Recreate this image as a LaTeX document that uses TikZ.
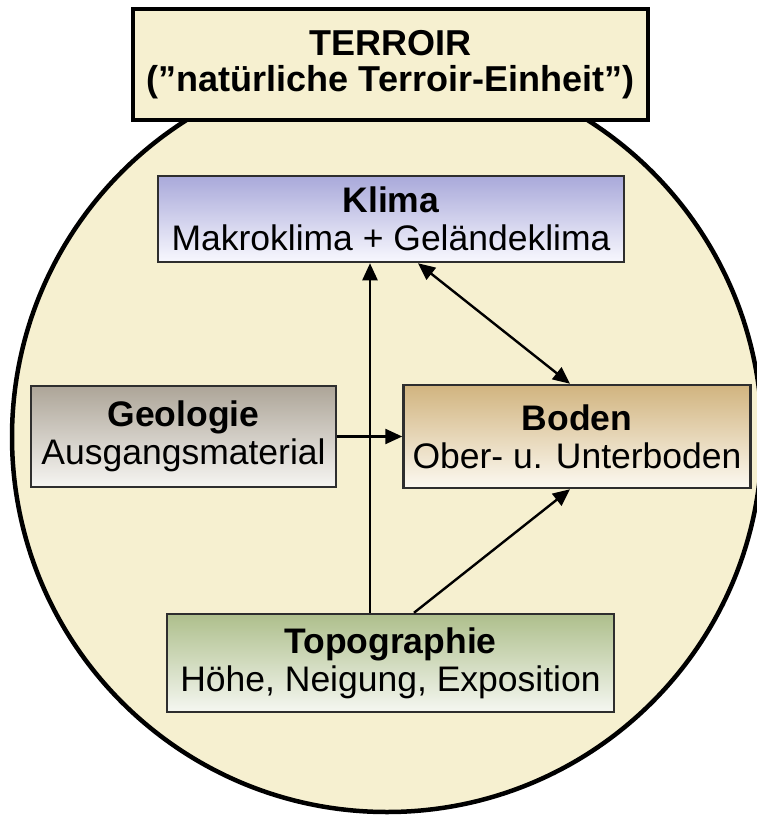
\documentclass[tikz,border=0pt]{standalone}
\usepackage{fontspec}
\setmainfont{Liberation Sans}
\usetikzlibrary{arrows.meta}

\definecolor{cream}{HTML}{F6F0D0}
\definecolor{boxline}{HTML}{2E2E2E}
\definecolor{klimatop}{HTML}{A9A9DA}
\definecolor{klimabot}{HTML}{F8F8FE}
\definecolor{geotop}{HTML}{ADA598}
\definecolor{geobot}{HTML}{F6F5F2}
\definecolor{bodentop}{HTML}{D1B47F}
\definecolor{bodenbot}{HTML}{FCF9F1}
\definecolor{topotop}{HTML}{AEBF8C}
\definecolor{topobot}{HTML}{F5F7F1}

\begin{document}
\begin{tikzpicture}[
    x=1pt, y=-1pt,
    >={Triangle[length=17pt,width=15pt]},
    every node/.style={font=\fontsize{35.5}{38}\selectfont, align=center, inner sep=0pt},
    factor/.style={draw=boxline, line width=2.5pt},
    link/.style={->, line width=2.4pt}
]
\useasboundingbox (0,0) rectangle (757,816);

% Terroir circle
\draw[fill=cream, line width=4.5pt] (387,437) circle[radius=375pt];

% Nodes
\node (terroir) [draw, fill=cream, line width=4.5pt, minimum width=515pt, minimum height=111pt,
    font=\fontsize{36}{36}\selectfont]
    at (390.5,64.5) {\textbf{TERROIR}\\\textbf{(”natürliche Terroir-Einheit”)}};
\node (klima) [factor, top color=klimatop, bottom color=klimabot, minimum width=466pt, minimum height=86pt]
    at (391,219) {\textbf{Klima}\\Makroklima + Geländeklima};
\node (geologie) [factor, top color=geotop, bottom color=geobot, minimum width=305pt, minimum height=101pt]
    at (183.5,436.5) {\textbf{Geologie}\\Ausgangsmaterial};
\node (boden) [factor, top color=bodentop, bottom color=bodenbot, minimum width=347pt, minimum height=103pt]
    at (577,436.5) {\textbf{Boden}\\Ober- u. Unterboden};
\node (topo) [factor, top color=topotop, bottom color=topobot, minimum width=447pt, minimum height=98pt]
    at (390.5,663) {\textbf{Topographie}\\Höhe, Neigung, Exposition};

% Connectors
\draw[link] (geologie.east) -- (boden.west);
\draw[link] ([xshift=-20.5pt]topo.north) -- ([xshift=-20.5pt]topo.north |- klima.south);
\draw[link, <->] ([xshift=27pt]klima.south) -- ([xshift=-7pt]boden.north);
\draw[link] ([xshift=23.5pt]topo.north) -- ([xshift=-7pt]boden.south);

\end{tikzpicture}
\end{document}
